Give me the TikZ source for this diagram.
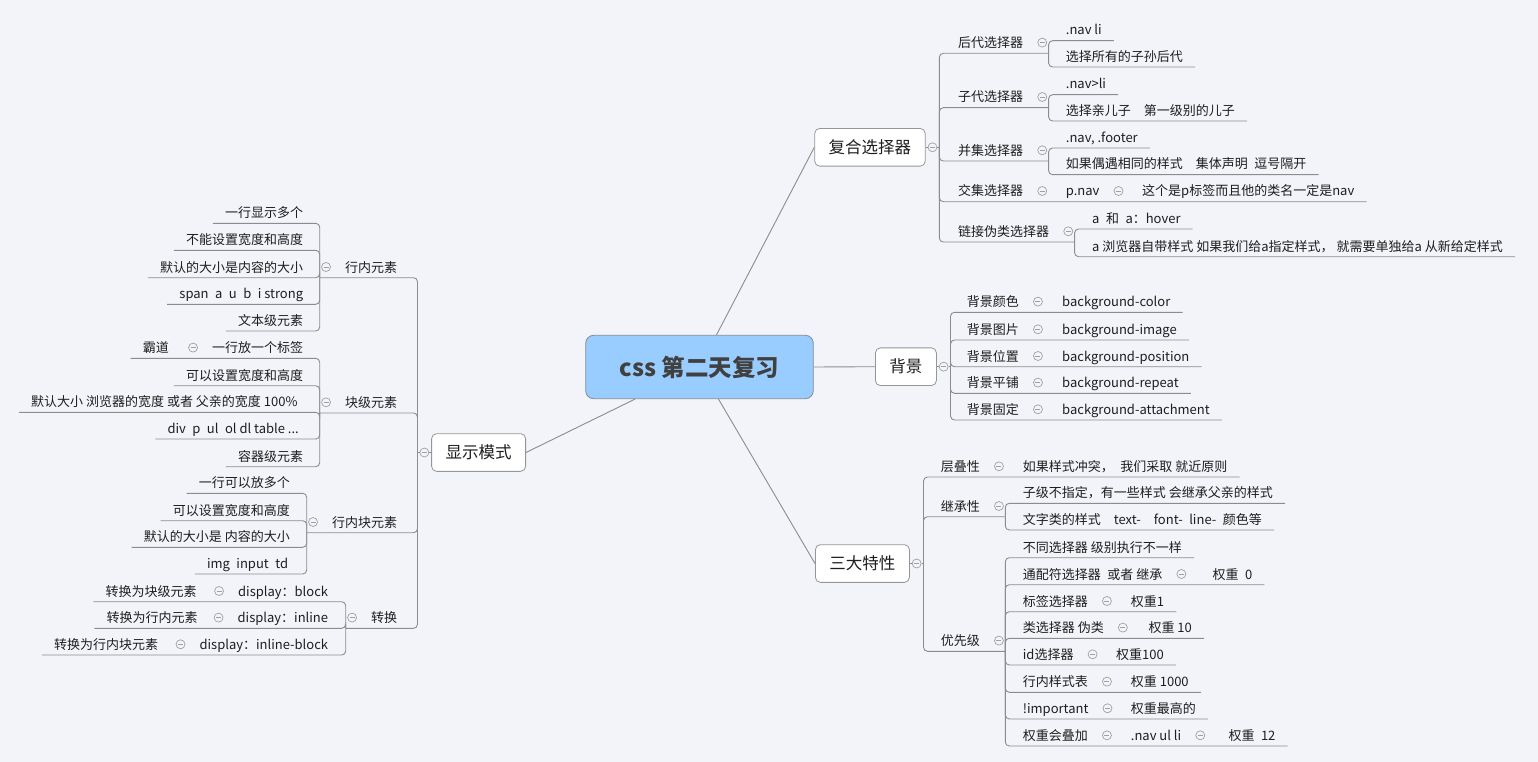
\documentclass[tikz,border=0pt]{standalone}
\usepackage{fontspec}
\setmainfont{Noto Sans CJK SC}
\usepackage{tikz}
\usetikzlibrary{positioning}

\definecolor{bgcol}{RGB}{243,244,249}
\definecolor{linegray}{RGB}{140,140,140}
\definecolor{boxline}{RGB}{150,150,150}
\definecolor{foldgray}{RGB}{160,160,160}
\definecolor{rootfill}{RGB}{153,204,255}
\definecolor{rootline}{RGB}{130,140,150}
\definecolor{roottxt}{RGB}{64,64,64}
\definecolor{txtcol}{RGB}{30,30,30}

\tikzset{
  link/.style={draw=linegray, line width=0.9pt, rounded corners=4pt},
  rootbox/.style={draw=rootline, fill=rootfill, rounded corners=8pt, line width=0.8pt,
    minimum width=227.6pt, minimum height=63.4pt, text=roottxt,
    font=\fontsize{23.5}{26}\selectfont\bfseries},
  mainbox/.style={draw=boxline, fill=white, rounded corners=5pt, line width=0.8pt,
    minimum height=37.7pt, inner xsep=14pt, text=txtcol,
    font=\fontsize{16.5}{19}\selectfont},
  rtopic/.style={anchor=south west, inner xsep=12pt, inner ysep=2pt,
    text height=13.5pt, text depth=3.5pt, text=txtcol,
    font=\fontsize{13}{16}\selectfont},
  ltopic/.style={rtopic, anchor=south east},
  fold/.style={circle, draw=foldgray, fill=bgcol, line width=0.7pt,
    minimum size=9pt, inner sep=0pt,
    path picture={\draw[foldgray, line width=0.7pt]
      ([xshift=-2.5pt]path picture bounding box.center) --
      ([xshift=2.5pt]path picture bounding box.center);}}
}

\begin{document}
\begin{tikzpicture}[x=1pt, y=-1pt]
    \useasboundingbox[fill=bgcol] (0,0) rectangle (1538,762);

    % centre
    \node[rootbox] (root) at (699.5,367) {css 第二天复习};

    % main topics
    \node[mainbox, anchor=west] (fuhe) at (814.3,147.3) {复合选择器};
    \node[mainbox, anchor=west] (beijing) at (875,366.7) {背景};
    \node[mainbox, anchor=west] (sanda) at (815,563.5) {三大特性};
    \node[mainbox, anchor=east] (xianshi) at (526,452.5) {显示模式};

    \draw[link] ([xshift=17pt]root.north) -- (fuhe.west);
    \draw[link] (root.east) -- (beijing.west);
    \draw[link] ([xshift=19pt]root.south) -- (sanda.west);
    \draw[link] ([xshift=-64.5pt]root.south) -- (xianshi.east);

    \node[fold, right=2pt of fuhe] (fuheF) {};
    \coordinate[right=2pt of fuheF] (fuheP);
    \draw[link] (fuhe) -- (fuheF) -- (fuheP);
    \node[fold, right=2pt of beijing] (beijingF) {};
    \coordinate[right=2pt of beijingF] (beijingP);
    \draw[link] (beijing) -- (beijingF) -- (beijingP);
    \node[fold, right=2pt of sanda] (sandaF) {};
    \coordinate[right=2pt of sandaF] (sandaP);
    \draw[link] (sanda) -- (sandaF) -- (sandaP);
    \node[fold, left=2pt of xianshi] (xianshiF) {};
    \coordinate[left=2pt of xianshiF] (xianshiP);
    \draw[link] (xianshi) -- (xianshiF) -- (xianshiP);

    % 复合选择器
    \node[rtopic] (houdai) at (946,53.3) {后代选择器};
    \node[fold, right=2pt of houdai] (houdaiF) {};
    \coordinate[xshift=1.5pt] (houdaiP) at (houdaiF.east |- houdai.south);
    \draw[link] (fuheP) |- (houdaiP);
    \node[rtopic] (houdai1) at (1053.7,40.7) {.nav li};
    \node[rtopic] (houdai2) at (1053.7,67) {选择所有的子孙后代};
    \draw[link] (houdaiP) |- (houdai1.south east);
    \draw[link] (houdaiP) |- (houdai2.south east);

    \node[rtopic] (zidai) at (946,107.7) {子代选择器};
    \node[fold, right=2pt of zidai] (zidaiF) {};
    \coordinate[xshift=1.5pt] (zidaiP) at (zidaiF.east |- zidai.south);
    \draw[link] (fuheP) |- (zidaiP);
    \node[rtopic] (zidai1) at (1053.7,94.7) {.nav>li};
    \node[rtopic] (zidai2) at (1053.7,121) {选择亲儿子\quad 第一级别的儿子};
    \draw[link] (zidaiP) |- (zidai1.south east);
    \draw[link] (zidaiP) |- (zidai2.south east);

    \node[rtopic] (bingji) at (946,161) {并集选择器};
    \node[fold, right=2pt of bingji] (bingjiF) {};
    \coordinate[xshift=1.5pt] (bingjiP) at (bingjiF.east |- bingji.south);
    \draw[link] (fuheP) |- (bingjiP);
    \node[rtopic] (bingji1) at (1053.7,148) {.nav, .footer};
    \node[rtopic] (bingji2) at (1053.7,174.7) {如果偶遇相同的样式\quad 集体声明\enspace 逗号隔开};
    \draw[link] (bingjiP) |- (bingji1.south east);
    \draw[link] (bingjiP) |- (bingji2.south east);

    \node[rtopic] (jiaoji) at (946,201.7) {交集选择器};
    \node[fold, right=2pt of jiaoji] (jiaojiF) {};
    \node[rtopic] (jiaoji1) at (1053.7,201.7) {p.nav};
    \node[fold, right=2pt of jiaoji1] (jiaoji1F) {};
    \node[rtopic] (jiaoji2) at (1130,201.7) {这个是p标签而且他的类名一定是nav};
    \draw[link] (fuheP) |- (jiaoji2.south east);

    \node[rtopic] (lianjie) at (946,242) {链接伪类选择器};
    \node[fold, right=2pt of lianjie] (lianjieF) {};
    \coordinate[xshift=1.5pt] (lianjieP) at (lianjieF.east |- lianjie.south);
    \draw[link] (fuheP) |- (lianjieP);
    \node[rtopic] (lianjie1) at (1080,229) {a\enspace 和\enspace a：hover};
    \node[rtopic] (lianjie2) at (1080,256.7) {a 浏览器自带样式 如果我们给a指定样式， 就需要单独给a 从新给定样式};
    \draw[link] (lianjieP) |- (lianjie1.south east);
    \draw[link] (lianjieP) |- (lianjie2.south east);

    % 背景
    \node[rtopic] (bj1) at (954.7,312.3) {背景颜色};
    \node[fold, right=2pt of bj1] (bj1F) {};
    \node[rtopic] (bj1v) at (1050,312.3) {background-color};
    \draw[link] (beijingP) |- (bj1v.south east);
    \node[rtopic] (bj2) at (954.7,340) {背景图片};
    \node[fold, right=2pt of bj2] (bj2F) {};
    \node[rtopic] (bj2v) at (1050,340) {background-image};
    \draw[link] (beijingP) |- (bj2v.south east);
    \node[rtopic] (bj3) at (954.7,366.7) {背景位置};
    \node[fold, right=2pt of bj3] (bj3F) {};
    \node[rtopic] (bj3v) at (1050,366.7) {background-position};
    \draw[link] (beijingP) |- (bj3v.south east);
    \node[rtopic] (bj4) at (954.7,393.3) {背景平铺};
    \node[fold, right=2pt of bj4] (bj4F) {};
    \node[rtopic] (bj4v) at (1050,393.3) {background-repeat};
    \draw[link] (beijingP) |- (bj4v.south east);
    \node[rtopic] (bj5) at (954.7,420) {背景固定};
    \node[fold, right=2pt of bj5] (bj5F) {};
    \node[rtopic] (bj5v) at (1050,420) {background-attachment};
    \draw[link] (beijingP) |- (bj5v.south east);

    % 三大特性
    \node[rtopic] (cengdie) at (928.7,477) {层叠性};
    \node[fold, right=2pt of cengdie] (cengdieF) {};
    \node[rtopic] (cengdie1) at (1010.7,477) {如果样式冲突，\enspace 我们采取 就近原则};
    \draw[link] (sandaP) |- (cengdie1.south east);

    \node[rtopic] (jicheng) at (928.7,516.7) {继承性};
    \node[fold, right=2pt of jicheng] (jichengF) {};
    \coordinate[xshift=1.5pt] (jichengP) at (jichengF.east |- jicheng.south);
    \draw[link] (sandaP) |- (jichengP);
    \node[rtopic] (jicheng1) at (1010.7,503.3) {子级不指定，有一些样式 会继承父亲的样式};
    \node[rtopic] (jicheng2) at (1010.7,530) {文字类的样式\quad text-\quad font-\enspace line-\enspace 颜色等};
    \draw[link] (jichengP) |- (jicheng1.south east);
    \draw[link] (jichengP) |- (jicheng2.south east);

    \node[rtopic] (youxian) at (928.7,651.3) {优先级};
    \node[fold, right=2pt of youxian] (youxianF) {};
    \coordinate[xshift=1.5pt] (youxianP) at (youxianF.east |- youxian.south);
    \draw[link] (sandaP) |- (youxianP);
    \node[rtopic] (yx1) at (1010.7,557.7) {不同选择器 级别执行不一样};
    \draw[link] (youxianP) |- (yx1.south east);
    \node[rtopic] (yx2) at (1010.7,584.7) {通配符选择器\enspace 或者 继承};
    \node[fold, right=2pt of yx2] (yx2F) {};
    \node[rtopic] (yx2b) at (1200.3,584.7) {权重\enspace 0};
    \draw[link] (youxianP) |- (yx2b.south east);
    \node[rtopic] (yx3) at (1010.7,611.7) {标签选择器};
    \node[fold, right=2pt of yx3] (yx3F) {};
    \node[rtopic] (yx3b) at (1118.7,611.7) {权重1};
    \draw[link] (youxianP) |- (yx3b.south east);
    \node[rtopic] (yx4) at (1010.7,638.3) {类选择器 伪类};
    \node[fold, right=2pt of yx4] (yx4F) {};
    \node[rtopic] (yx4b) at (1136.3,638.3) {权重 10};
    \draw[link] (youxianP) |- (yx4b.south east);
    \node[rtopic] (yx5) at (1010.7,665) {id选择器};
    \node[fold, right=2pt of yx5] (yx5F) {};
    \node[rtopic] (yx5b) at (1104,665) {权重100};
    \draw[link] (youxianP) |- (yx5b.south east);
    \node[rtopic] (yx6) at (1010.7,692.3) {行内样式表};
    \node[fold, right=2pt of yx6] (yx6F) {};
    \node[rtopic] (yx6b) at (1118.7,692.3) {权重 1000};
    \draw[link] (youxianP) |- (yx6b.south east);
    \node[rtopic] (yx7) at (1010.7,719) {!important};
    \node[fold, right=2pt of yx7] (yx7F) {};
    \node[rtopic] (yx7b) at (1118.7,719) {权重最高的};
    \draw[link] (youxianP) |- (yx7b.south east);
    \node[rtopic] (yx8) at (1010.7,746) {权重会叠加};
    \node[fold, right=2pt of yx8] (yx8F) {};
    \node[rtopic] (yx8b) at (1118.7,746) {.nav ul li};
    \node[fold, right=2pt of yx8b] (yx8bF) {};
    \node[rtopic] (yx8c) at (1216.3,746) {权重\enspace 12};
    \draw[link] (youxianP) |- (yx8c.south east);

    % 显示模式
    \node[ltopic] (hangnei) at (409.3,277.7) {行内元素};
    \node[fold, left=2pt of hangnei] (hangneiF) {};
    \coordinate[xshift=-1.5pt] (hangneiP) at (hangneiF.west |- hangnei.south);
    \draw[link] (xianshiP) |- (hangneiP);
    \node[ltopic] (hn1) at (315.3,223.3) {一行显示多个};
    \node[ltopic] (hn2) at (315.3,250.3) {不能设置宽度和高度};
    \node[ltopic] (hn3) at (315.3,277.7) {默认的大小是内容的大小};
    \node[ltopic] (hn4) at (315.3,304.3) {span\enspace a\enspace u\enspace b\enspace i strong};
    \node[ltopic] (hn5) at (315.3,331) {文本级元素};
    \draw[link] (hangneiP) |- (hn1.south west);
    \draw[link] (hangneiP) |- (hn2.south west);
    \draw[link] (hangneiP) |- (hn3.south west);
    \draw[link] (hangneiP) |- (hn4.south west);
    \draw[link] (hangneiP) |- (hn5.south west);

    \node[ltopic] (kuaiji) at (409.3,413) {块级元素};
    \node[fold, left=2pt of kuaiji] (kuaijiF) {};
    \coordinate[xshift=-1.5pt] (kuaijiP) at (kuaijiF.west |- kuaiji.south);
    \draw[link] (xianshiP) |- (kuaijiP);
    \node[ltopic] (kj1) at (315.3,358.3) {一行放一个标签};
    \node[fold, left=2pt of kj1] (kj1F) {};
    \node[ltopic] (kj1b) at (181,358.3) {霸道};
    \node[ltopic] (kj2) at (315.3,385.7) {可以设置宽度和高度};
    \node[ltopic] (kj3) at (309.7,412.3) {默认大小 浏览器的宽度 或者 父亲的宽度 100\%};
    \node[ltopic] (kj4) at (311,439) {div\enspace p\enspace ul\enspace ol dl table ...};
    \node[ltopic] (kj5) at (315.3,466.7) {容器级元素};
    \draw[link] (kuaijiP) |- (kj1b.south west);
    \draw[link] (kuaijiP) |- (kj2.south west);
    \draw[link] (kuaijiP) |- (kj3.south west);
    \draw[link] (kuaijiP) |- (kj4.south west);
    \draw[link] (kuaijiP) |- (kj5.south west);

    \node[ltopic] (hnkuai) at (409.3,532.7) {行内块元素};
    \node[fold, left=2pt of hnkuai] (hnkuaiF) {};
    \coordinate[xshift=-1.5pt] (hnkuaiP) at (hnkuaiF.west |- hnkuai.south);
    \draw[link] (xianshiP) |- (hnkuaiP);
    \node[ltopic] (hk1) at (302,493.3) {一行可以放多个};
    \node[ltopic] (hk2) at (302,520.7) {可以设置宽度和高度};
    \node[ltopic] (hk3) at (302,547.3) {默认的大小是 内容的大小};
    \node[ltopic] (hk4) at (300.3,574) {img\enspace input\enspace td};
    \draw[link] (hnkuaiP) |- (hk1.south west);
    \draw[link] (hnkuaiP) |- (hk2.south west);
    \draw[link] (hnkuaiP) |- (hk3.south west);
    \draw[link] (hnkuaiP) |- (hk4.south west);

    \node[ltopic] (zhuan) at (409.3,628.3) {转换};
    \node[fold, left=2pt of zhuan] (zhuanF) {};
    \coordinate[xshift=-1.5pt] (zhuanP) at (zhuanF.west |- zhuan.south);
    \draw[link] (xianshiP) |- (zhuanP);
    \node[ltopic] (zh1) at (340.3,601.7) {display：block};
    \node[fold, left=2pt of zh1] (zh1F) {};
    \node[ltopic] (zh1b) at (208.7,601.7) {转换为块级元素};
    \node[ltopic] (zh2) at (340.3,628.3) {display：inline};
    \node[fold, left=2pt of zh2] (zh2F) {};
    \node[ltopic] (zh2b) at (209.7,628.3) {转换为行内元素};
    \node[ltopic] (zh3) at (340.3,655) {display：inline-block};
    \node[fold, left=2pt of zh3] (zh3F) {};
    \node[ltopic] (zh3b) at (170.3,655) {转换为行内块元素};
    \draw[link] (zhuanP) |- (zh1b.south west);
    \draw[link] (zhuanP) |- (zh2b.south west);
    \draw[link] (zhuanP) |- (zh3b.south west);
\end{tikzpicture}
\end{document}
